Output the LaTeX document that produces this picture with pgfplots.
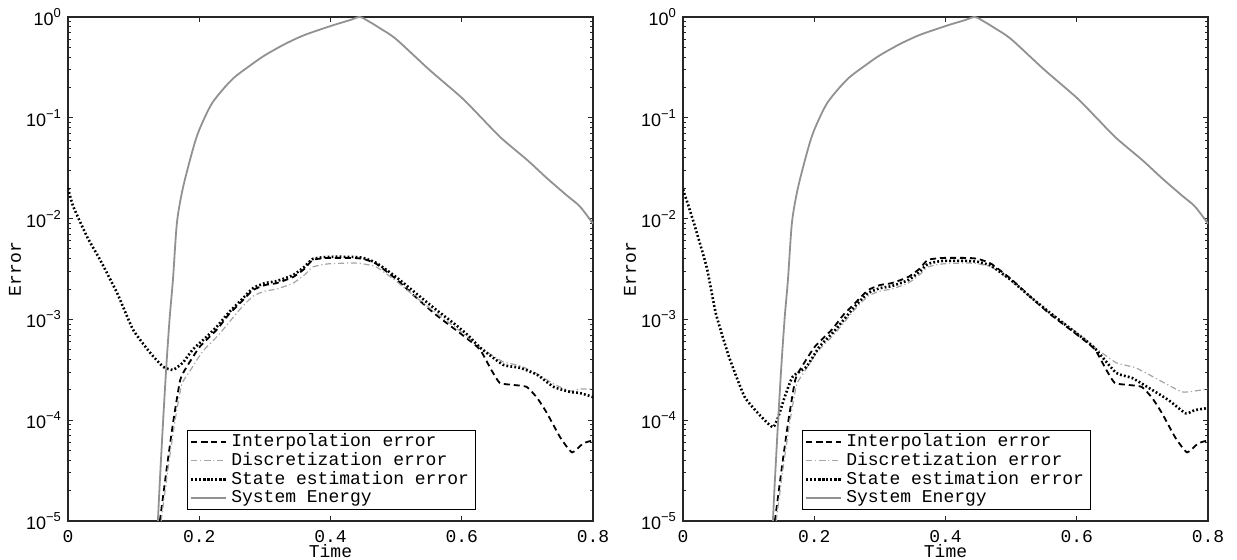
\documentclass[border=0pt]{standalone}
\usepackage{fontspec}
\setmainfont{Liberation Mono}
\newfontfamily\hsans{Liberation Sans}
\usepackage{pgfplots}
\pgfplotsset{compat=1.18}

\definecolor{energy}{RGB}{145,145,145}
\definecolor{discr}{RGB}{165,165,165}

\newcommand{\tenexp}[1]{{\hsans 10\raisebox{0.85ex}{\fontsize{6.5}{7}\selectfont #1}}}

\tikzset{
  interp/.style={black, line width=0.9pt, dash pattern=on 3pt off 2pt, smooth, tension=0.3},
  discret/.style={discr, line width=0.6pt, dash pattern=on 3pt off 1.4pt on 0.6pt off 1.4pt, smooth, tension=0.3},
  stateest/.style={black, line width=1.3pt, dash pattern=on 0.9pt off 1.1pt, smooth, tension=0.3},
  sysenergy/.style={energy, line width=0.9pt, smooth, tension=0.45},
}

\begin{document}
\begin{tikzpicture}
% ---------------- left panel ----------------
\begin{axis}[name=left, at={(0,0)}, anchor=south west,
    scale only axis, width=262.5pt, height=252pt,
    ymode=log,
    xmin=0, xmax=0.8, ymin=1e-5, ymax=1,
    xtick={0,0.2,0.4,0.6,0.8},
    xticklabels={0,0.2,0.4,0.6,0.8},
    ytick={1e-5,1e-4,1e-3,1e-2,1e-1,1},
    yticklabels={\tenexp{−5},\tenexp{−4},\tenexp{−3},\tenexp{−2},\tenexp{−1},\tenexp{0}},
    tick align=inside,
    major tick length=2.6pt, minor tick length=1.5pt,
    axis line style={line width=0.65pt, black!85},
    tick style={black!85, line width=0.5pt},
    tick label style={font=\fontsize{9}{10}\selectfont},
    xticklabel style={yshift=-1pt},
    xlabel={Time}, ylabel={Error},
    label style={font=\fontsize{9}{10}\selectfont},
    xlabel style={at={(axis description cs:0.5,-0.045)}, anchor=north, inner sep=0pt},
    ylabel style={at={(axis description cs:-0.101,0.5)}, anchor=center},
    legend style={at={(0.227,0.022)}, anchor=south west,
      font=\fontsize{9}{9.5}\selectfont, draw=black, line width=0.6pt,
      inner sep=1.2pt, row sep=0pt, nodes={inner xsep=2.2pt, inner ysep=0.7pt}},
    legend cell align=left]
\addplot[interp] coordinates {
 (0.140,1e-5) (0.150,3.16e-5) (0.160,9.33e-5) (0.171,2.51e-4) (0.181,3.39e-4)
 (0.201,5.37e-4) (0.227,7.94e-4) (0.245,1.12e-3) (0.262,1.45e-3) (0.282,1.95e-3)
 (0.300,2.19e-3) (0.318,2.29e-3) (0.343,2.63e-3) (0.360,3.16e-3) (0.373,3.89e-3)
 (0.395,4.07e-3) (0.434,4.07e-3) (0.450,3.98e-3) (0.470,3.55e-3) (0.500,2.51e-3)
 (0.530,1.66e-3) (0.560,1.12e-3) (0.590,7.94e-4) (0.610,6.31e-4) (0.628,5.01e-4)
 (0.645,3.16e-4) (0.658,2.34e-4) (0.678,2.24e-4) (0.699,2.14e-4) (0.715,1.66e-4)
 (0.730,1.17e-4) (0.750,6.76e-5) (0.768,4.79e-5) (0.785,5.89e-5) (0.800,6.31e-5)
};
\addlegendentry{Interpolation error}
\addplot[discret] coordinates {
 (0.142,1e-5) (0.152,3.16e-5) (0.162,8.91e-5) (0.173,2.24e-4) (0.185,3.02e-4)
 (0.205,4.79e-4) (0.230,7.08e-4) (0.262,1.26e-3) (0.282,1.70e-3) (0.300,1.91e-3)
 (0.318,2.00e-3) (0.343,2.29e-3) (0.360,2.75e-3) (0.373,3.31e-3) (0.395,3.55e-3)
 (0.434,3.63e-3) (0.450,3.55e-3) (0.470,3.31e-3) (0.500,2.40e-3) (0.530,1.66e-3)
 (0.560,1.17e-3) (0.590,8.32e-4) (0.610,6.61e-4) (0.628,5.25e-4) (0.663,3.80e-4)
 (0.689,3.47e-4) (0.715,2.88e-4) (0.740,2.29e-4) (0.765,1.95e-4) (0.780,2.04e-4)
 (0.800,2.04e-4)
};
\addlegendentry{Discretization error}
\addplot[stateest] coordinates {
 (0.000,2.00e-2) (0.008,1.32e-2) (0.029,6.61e-3) (0.049,3.89e-3) (0.075,1.82e-3)
 (0.099,7.94e-4) (0.125,4.68e-4) (0.145,3.39e-4) (0.160,3.16e-4) (0.175,3.72e-4)
 (0.190,5.01e-4) (0.210,6.61e-4) (0.227,8.51e-4) (0.245,1.17e-3) (0.262,1.51e-3)
 (0.282,2.04e-3) (0.300,2.29e-3) (0.318,2.40e-3) (0.343,2.75e-3) (0.360,3.31e-3)
 (0.373,3.98e-3) (0.395,4.17e-3) (0.434,4.17e-3) (0.450,4.07e-3) (0.470,3.63e-3)
 (0.500,2.63e-3) (0.530,1.82e-3) (0.560,1.26e-3) (0.590,8.91e-4) (0.610,6.92e-4)
 (0.628,5.25e-4) (0.663,3.55e-4) (0.689,3.31e-4) (0.715,2.82e-4) (0.740,2.14e-4)
 (0.765,1.91e-4) (0.780,1.86e-4) (0.800,1.70e-4)
};
\addlegendentry{State estimation error}
\addplot[sysenergy] coordinates {
 (0.137,1e-5) (0.140,2.51e-5) (0.145,1.00e-4) (0.150,3.55e-4) (0.155,1.05e-3)
 (0.160,2.51e-3) (0.166,9.12e-3) (0.175,2.00e-2) (0.190,4.79e-2) (0.200,7.59e-2)
 (0.220,0.141) (0.250,0.240) (0.280,0.339) (0.300,0.417) (0.330,0.537)
 (0.360,0.661) (0.400,0.813) (0.430,0.933) (0.445,1.000) (0.460,0.891)
 (0.475,0.776) (0.500,0.603) (0.550,0.302) (0.600,0.158) (0.630,0.100)
 (0.660,6.31e-2) (0.700,3.80e-2) (0.730,2.51e-2) (0.760,1.70e-2) (0.780,1.32e-2)
 (0.800,8.91e-3)
};
\addlegendentry{System Energy}
\end{axis}
% ---------------- right panel ----------------
\begin{axis}[at={(left.south east)}, xshift=45pt, anchor=south west,
    scale only axis, width=262.5pt, height=252pt,
    ymode=log,
    xmin=0, xmax=0.8, ymin=1e-5, ymax=1,
    xtick={0,0.2,0.4,0.6,0.8},
    xticklabels={0,0.2,0.4,0.6,0.8},
    ytick={1e-5,1e-4,1e-3,1e-2,1e-1,1},
    yticklabels={\tenexp{−5},\tenexp{−4},\tenexp{−3},\tenexp{−2},\tenexp{−1},\tenexp{0}},
    tick align=inside,
    major tick length=2.6pt, minor tick length=1.5pt,
    axis line style={line width=0.65pt, black!85},
    tick style={black!85, line width=0.5pt},
    tick label style={font=\fontsize{9}{10}\selectfont},
    xticklabel style={yshift=-1pt},
    xlabel={Time}, ylabel={Error},
    label style={font=\fontsize{9}{10}\selectfont},
    xlabel style={at={(axis description cs:0.5,-0.045)}, anchor=north, inner sep=0pt},
    ylabel style={at={(axis description cs:-0.101,0.5)}, anchor=center},
    legend style={at={(0.227,0.022)}, anchor=south west,
      font=\fontsize{9}{9.5}\selectfont, draw=black, line width=0.6pt,
      inner sep=1.2pt, row sep=0pt, nodes={inner xsep=2.2pt, inner ysep=0.7pt}},
    legend cell align=left]
\addplot[interp] coordinates {
 (0.140,1e-5) (0.150,3.16e-5) (0.160,9.33e-5) (0.171,2.51e-4) (0.181,3.39e-4)
 (0.201,5.37e-4) (0.227,7.94e-4) (0.245,1.12e-3) (0.262,1.45e-3) (0.282,1.95e-3)
 (0.300,2.19e-3) (0.318,2.29e-3) (0.343,2.63e-3) (0.360,3.16e-3) (0.373,3.89e-3)
 (0.395,4.07e-3) (0.434,4.07e-3) (0.450,3.98e-3) (0.470,3.55e-3) (0.500,2.51e-3)
 (0.530,1.66e-3) (0.560,1.12e-3) (0.590,7.94e-4) (0.610,6.31e-4) (0.628,5.01e-4)
 (0.645,3.16e-4) (0.658,2.34e-4) (0.678,2.24e-4) (0.699,2.14e-4) (0.715,1.66e-4)
 (0.730,1.17e-4) (0.750,6.76e-5) (0.768,4.79e-5) (0.785,5.89e-5) (0.800,6.31e-5)
};
\addlegendentry{Interpolation error}
\addplot[discret] coordinates {
 (0.142,1e-5) (0.152,3.16e-5) (0.162,8.91e-5) (0.173,2.24e-4) (0.185,3.02e-4)
 (0.205,4.79e-4) (0.230,7.08e-4) (0.262,1.26e-3) (0.282,1.70e-3) (0.300,1.91e-3)
 (0.318,2.00e-3) (0.343,2.29e-3) (0.360,2.75e-3) (0.373,3.31e-3) (0.395,3.55e-3)
 (0.434,3.63e-3) (0.450,3.55e-3) (0.470,3.31e-3) (0.500,2.40e-3) (0.530,1.66e-3)
 (0.560,1.17e-3) (0.590,8.32e-4) (0.610,6.61e-4) (0.628,5.25e-4) (0.660,3.72e-4)
 (0.690,3.31e-4) (0.725,2.51e-4) (0.760,1.91e-4) (0.780,1.95e-4) (0.800,2.04e-4)
};
\addlegendentry{Discretization error}
\addplot[stateest] coordinates {
 (0.000,1.95e-2) (0.015,9.77e-3) (0.036,3.31e-3) (0.050,1.15e-3) (0.070,4.27e-4)
 (0.094,1.70e-4) (0.120,1.07e-4) (0.137,8.51e-5) (0.145,1.07e-4) (0.155,1.70e-4)
 (0.167,2.69e-4) (0.188,3.39e-4) (0.208,5.37e-4) (0.230,7.59e-4) (0.262,1.35e-3)
 (0.282,1.82e-3) (0.300,2.04e-3) (0.318,2.14e-3) (0.343,2.45e-3) (0.360,2.95e-3)
 (0.373,3.55e-3) (0.395,3.80e-3) (0.434,3.80e-3) (0.450,3.72e-3) (0.470,3.39e-3)
 (0.500,2.45e-3) (0.530,1.66e-3) (0.560,1.15e-3) (0.590,8.13e-4) (0.610,6.46e-4)
 (0.628,5.13e-4) (0.660,2.95e-4) (0.684,2.63e-4) (0.710,2.09e-4) (0.740,1.58e-4)
 (0.766,1.17e-4) (0.780,1.26e-4) (0.800,1.32e-4)
};
\addlegendentry{State estimation error}
\addplot[sysenergy] coordinates {
 (0.137,1e-5) (0.140,2.51e-5) (0.145,1.00e-4) (0.150,3.55e-4) (0.155,1.05e-3)
 (0.160,2.51e-3) (0.166,9.12e-3) (0.175,2.00e-2) (0.190,4.79e-2) (0.200,7.59e-2)
 (0.220,0.141) (0.250,0.240) (0.280,0.339) (0.300,0.417) (0.330,0.537)
 (0.360,0.661) (0.400,0.813) (0.430,0.933) (0.445,1.000) (0.460,0.891)
 (0.475,0.776) (0.500,0.603) (0.550,0.302) (0.600,0.158) (0.630,0.100)
 (0.660,6.31e-2) (0.700,3.80e-2) (0.730,2.51e-2) (0.760,1.70e-2) (0.780,1.32e-2)
 (0.800,8.91e-3)
};
\addlegendentry{System Energy}
\end{axis}
\pgfresetboundingbox
\useasboundingbox (-34pt,-19.5pt) rectangle (584.5pt,260.5pt);
\end{tikzpicture}
\end{document}
